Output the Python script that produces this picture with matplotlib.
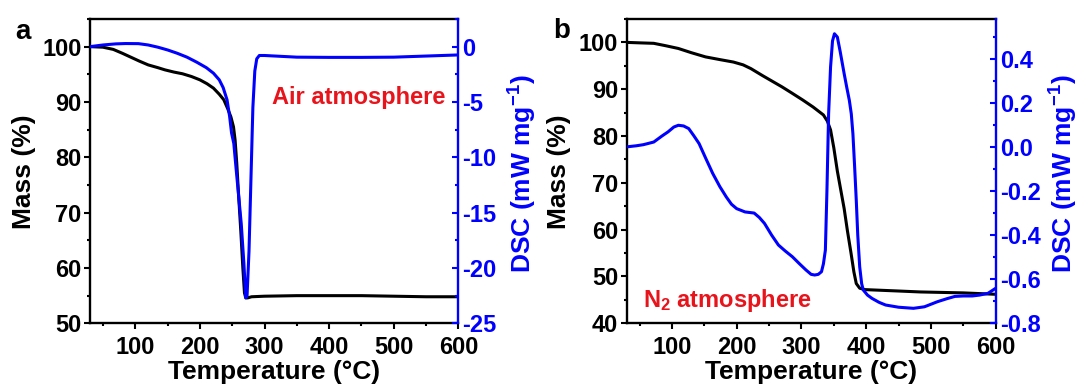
import matplotlib
matplotlib.use("Agg")
import matplotlib.pyplot as plt
from matplotlib.ticker import MultipleLocator

plt.rcParams['font.family'] = ['Liberation Sans', 'DejaVu Sans']
plt.rcParams['font.weight'] = 'bold'
plt.rcParams['axes.labelweight'] = 'bold'
plt.rcParams['mathtext.default'] = 'regular'
plt.rcParams['axes.unicode_minus'] = False

BLUE = '#0000ff'
RED = '#e8141c'

# panel a, air atmosphere
temp_a_mass = [30, 50, 66, 80, 93, 106, 120, 135, 146, 160, 173, 187, 200, 211,
               221, 230, 237, 243, 248, 252, 254.5, 257, 260, 263.5, 266.5, 269,
               271, 274, 280, 300, 350, 400, 450, 500, 550, 600]
mass_a = [100, 99.9, 99.5, 98.8, 98.1, 97.4, 96.7, 96.2, 95.8, 95.4, 95.1, 94.6,
          94.0, 93.3, 92.5, 91.4, 90.4, 88.8, 87.3, 85.5, 83.1, 79, 73, 66.3, 60,
          55.5, 54.6, 54.6, 54.8, 54.9, 55.0, 55.0, 55.0, 54.9, 54.8, 54.8]
temp_a_dsc = [30, 50, 70, 85, 105, 120, 135, 150, 165, 180, 195, 210, 221, 230,
              236, 242, 246, 249, 252.5, 256, 260, 264, 268, 271, 273, 276, 279,
              282, 285, 288, 292, 300, 350, 400, 450, 500, 550, 600]
dsc_a = [0.0, 0.15, 0.25, 0.28, 0.27, 0.15, -0.05, -0.3, -0.6, -0.95, -1.4, -1.9,
         -2.4, -3.0, -3.7, -4.8, -6.3, -7.8, -8.75, -11, -13.5, -16, -19.5, -22.7,
         -22.5, -18.5, -12, -5.5, -2.2, -1.1, -0.8, -0.8, -0.95, -0.97, -0.97,
         -0.95, -0.85, -0.75]

# panel b, N2 atmosphere
temp_b_mass = [30, 50, 72, 90, 110, 130, 152, 175, 195, 210, 222, 240, 255, 270,
               285, 302, 318, 334, 340, 345, 350, 355.5, 361, 366, 371, 376.7, 381,
               384.7, 390, 398, 450, 483.6, 550, 600]
mass_b = [100.0, 99.9, 99.8, 99.3, 98.7, 97.8, 96.9, 96.3, 95.8, 95.2, 94.4, 92.9,
          91.7, 90.5, 89.2, 87.7, 86.2, 84.5, 83.2, 81.3, 77.5, 72.5, 68.3, 64.5,
          59.8, 54.9, 51, 48.5, 47.5, 47.2, 46.9, 46.7, 46.5, 46.2]
temp_b_dsc = [30, 45, 56, 72, 85, 94, 103, 110, 118, 126, 134, 142, 152, 163, 174,
              184, 192, 200, 213, 227, 235, 243, 254, 264.5, 275, 286, 297, 307,
              315, 320.5, 326, 331, 334, 337, 339.4, 342, 345, 348, 351, 355.5, 360,
              366, 370, 374, 377, 379.5, 382, 384.7, 387, 390, 393, 395.5, 402, 409,
              420, 430, 450, 473, 490, 510, 525, 537, 550, 563.7, 575, 588, 600]
dsc_b = [0.0, 0.005, 0.01, 0.022, 0.05, 0.068, 0.09, 0.098, 0.095, 0.083, 0.05,
         0.015, -0.05, -0.12, -0.18, -0.227, -0.26, -0.28, -0.295, -0.30, -0.32,
         -0.347, -0.4, -0.445, -0.472, -0.498, -0.53, -0.558, -0.578, -0.581,
         -0.578, -0.566, -0.53, -0.468, -0.2, 0.15, 0.362, 0.48, 0.513, 0.498, 0.43,
         0.332, 0.27, 0.211, 0.15, 0.06, -0.08, -0.242, -0.40, -0.544, -0.62,
         -0.649, -0.672, -0.687, -0.705, -0.717, -0.727, -0.732, -0.725, -0.702,
         -0.688, -0.678, -0.676, -0.676, -0.672, -0.664, -0.641]


def panel(fig, rect, temp_m, mass, temp_d, dsc, mass_lim, dsc_lim, dsc_major,
          dsc_minor):
    ax = fig.add_axes(rect)
    ax.plot(temp_m, mass, c='k', lw=2.2)
    ax.set(xlim=(30, 600), ylim=mass_lim)
    ax.set_xlabel("Temperature (°C)", fontsize=19, labelpad=1)
    ax.xaxis.set_major_locator(MultipleLocator(100))
    ax.xaxis.set_minor_locator(MultipleLocator(50))
    ax.yaxis.set_major_locator(MultipleLocator(10))
    ax.yaxis.set_minor_locator(MultipleLocator(5))
    ax.tick_params(which='major', direction='out', length=4, width=1.5,
                   labelsize=17, pad=2)
    ax.tick_params(axis='x', which='major', pad=5)
    ax.tick_params(which='minor', direction='out', length=2.5, width=1.5)
    ax.spines['right'].set_visible(False)
    for s in ['left', 'top', 'bottom']:
        ax.spines[s].set_linewidth(1.7)

    ax2 = ax.twinx()
    ax2.plot(temp_d, dsc, c=BLUE, lw=2.2)
    ax2.set_ylim(dsc_lim)
    ax2.yaxis.set_major_locator(MultipleLocator(dsc_major))
    ax2.yaxis.set_minor_locator(MultipleLocator(dsc_minor))
    ax2.tick_params(axis='y', which='major', direction='in', length=4, width=1.5,
                    colors=BLUE, labelsize=17, pad=3)
    ax2.tick_params(axis='y', which='minor', direction='in', length=2.5,
                    width=1.5, colors=BLUE)
    for s in ['left', 'top', 'bottom']:
        ax2.spines[s].set_visible(False)
    ax2.spines['right'].set_color(BLUE)
    ax2.spines['right'].set_linewidth(1.7)
    return ax, ax2


fig = plt.figure(figsize=(10.81, 3.88), dpi=100)

ax_a, ax_a2 = panel(fig, [0.0833, 0.1667, 0.3407, 0.7844],
                    temp_a_mass, mass_a, temp_a_dsc, dsc_a,
                    (50, 105), (-25, 2.5), 5, 2.5)
ax_b, ax_b2 = panel(fig, [0.5796, 0.1667, 0.3415, 0.7844],
                    temp_b_mass, mass_b, temp_b_dsc, dsc_b,
                    (40, 105), (-0.8, 0.58), 0.2, 0.1)

# axis titles placed by hand, as in the source figure
fig.text(24 / 1081, 1 - 172 / 388, "Mass (%)", rotation=90, ha='center',
         va='center', fontsize=19)
fig.text(523 / 1081, 1 - 174 / 388, "DSC (mW mg$^{-1}$)", rotation=90,
         ha='center', va='center', fontsize=19, color=BLUE)
fig.text(559 / 1081, 1 - 172 / 388, "Mass (%)", rotation=90, ha='center',
         va='center', fontsize=19)
fig.text(1064 / 1081, 1 - 174 / 388, "DSC (mW mg$^{-1}$)", rotation=90,
         ha='center', va='center', fontsize=19, color=BLUE)

fig.text(23 / 1081, 1 - 32 / 388, "a", ha='center', va='center', fontsize=20)
fig.text(562 / 1081, 1 - 31 / 388, "b", ha='center', va='center', fontsize=20)

ax_a.text(0.493, 0.7207, "Air atmosphere", transform=ax_a.transAxes,
          color=RED, fontsize=17, va='baseline')
ax_b.text(0.044, 0.054, "N$_2$ atmosphere", transform=ax_b.transAxes,
          color=RED, fontsize=17, va='baseline')

fig.savefig("out.png", dpi=100)
